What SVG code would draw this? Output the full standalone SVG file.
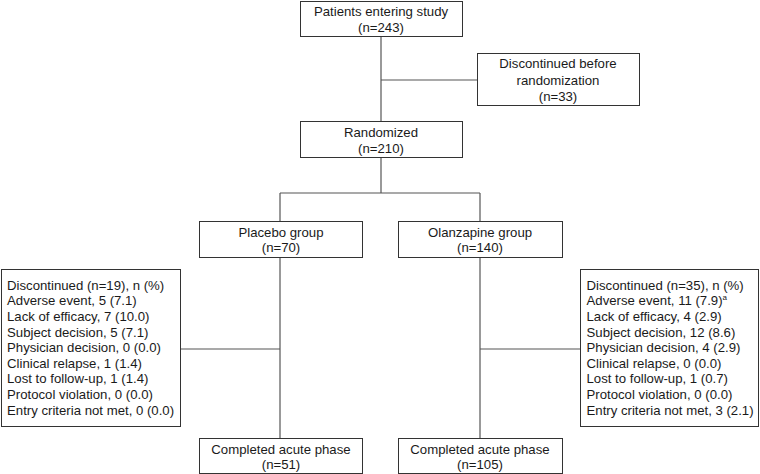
<svg xmlns="http://www.w3.org/2000/svg" width="760" height="474" viewBox="0 0 760 474">
<style>
rect.box{fill:#fff;stroke:#333;stroke-width:1}
.conn line{stroke:#555;stroke-width:1.2}
text{font-family:"Liberation Sans",Arial,sans-serif;font-size:13.2px;fill:#1a1a1a}
.c{text-anchor:middle}
</style>
<rect width="760" height="474" fill="#fff"/>
<g class="conn" id="connectors">
<line x1="381" y1="36" x2="381" y2="121"/>
<line x1="381" y1="80" x2="477" y2="80"/>
<line x1="381" y1="157" x2="381" y2="193"/>
<line x1="280" y1="193" x2="480" y2="193"/>
<line x1="280" y1="193" x2="280" y2="221"/>
<line x1="480" y1="193" x2="480" y2="221"/>
<line x1="280" y1="257" x2="280" y2="438"/>
<line x1="180" y1="349" x2="280" y2="349"/>
<line x1="480" y1="257" x2="480" y2="438"/>
<line x1="480" y1="349" x2="581" y2="349"/>
</g>
<g id="entering">
<rect class="box" x="300.5" y="1.5" width="162" height="35"/>
<text class="c" x="381" y="16">Patients entering study</text>
<text class="c" x="381" y="32">(n=243)</text>
</g>
<g id="discontinued-before">
<rect class="box" x="477.5" y="53.5" width="162" height="52"/>
<text class="c" x="558" y="68">Discontinued before</text>
<text class="c" x="558" y="84.5">randomization</text>
<text class="c" x="558" y="101">(n=33)</text>
</g>
<g id="randomized">
<rect class="box" x="300.5" y="121.5" width="162" height="36"/>
<text class="c" x="381" y="137">Randomized</text>
<text class="c" x="381" y="153">(n=210)</text>
</g>
<g id="placebo">
<rect class="box" x="199.5" y="221.5" width="163" height="36"/>
<text class="c" x="281" y="237">Placebo group</text>
<text class="c" x="281" y="252">(n=70)</text>
</g>
<g id="olanzapine">
<rect class="box" x="398.5" y="221.5" width="164" height="36"/>
<text class="c" x="480" y="237">Olanzapine group</text>
<text class="c" x="480" y="252">(n=140)</text>
</g>
<g id="placebo-disc">
<rect class="box" x="1.5" y="269.5" width="179" height="157"/>
<text x="7" y="289.8">Discontinued (n=19), n (%)</text>
<text x="7" y="305.4">Adverse event, 5 (7.1)</text>
<text x="7" y="321">Lack of efficacy, 7 (10.0)</text>
<text x="7" y="336.6">Subject decision, 5 (7.1)</text>
<text x="7" y="352.2">Physician decision, 0 (0.0)</text>
<text x="7" y="367.8">Clinical relapse, 1 (1.4)</text>
<text x="7" y="383.4">Lost to follow-up, 1 (1.4)</text>
<text x="7" y="399">Protocol violation, 0 (0.0)</text>
<text x="7" y="414.6">Entry criteria not met, 0 (0.0)</text>
</g>
<g id="olanzapine-disc">
<rect class="box" x="580.5" y="269.5" width="178" height="157"/>
<text x="586.5" y="289.8">Discontinued (n=35), n (%)</text>
<text x="586.5" y="305.4">Adverse event, 11 (7.9)<tspan font-size="8" dy="-5">a</tspan></text>
<text x="586.5" y="321">Lack of efficacy, 4 (2.9)</text>
<text x="586.5" y="336.6">Subject decision, 12 (8.6)</text>
<text x="586.5" y="352.2">Physician decision, 4 (2.9)</text>
<text x="586.5" y="367.8">Clinical relapse, 0 (0.0)</text>
<text x="586.5" y="383.4">Lost to follow-up, 1 (0.7)</text>
<text x="586.5" y="399">Protocol violation, 0 (0.0)</text>
<text x="586.5" y="414.6">Entry criteria not met, 3 (2.1)</text>
</g>
<g id="placebo-completed">
<rect class="box" x="199.5" y="438.5" width="163" height="35"/>
<text class="c" x="281" y="454">Completed acute phase</text>
<text class="c" x="281" y="468.5">(n=51)</text>
</g>
<g id="olanzapine-completed">
<rect class="box" x="398.5" y="438.5" width="164" height="35"/>
<text class="c" x="480" y="454">Completed acute phase</text>
<text class="c" x="480" y="468.5">(n=105)</text>
</g>
</svg>
